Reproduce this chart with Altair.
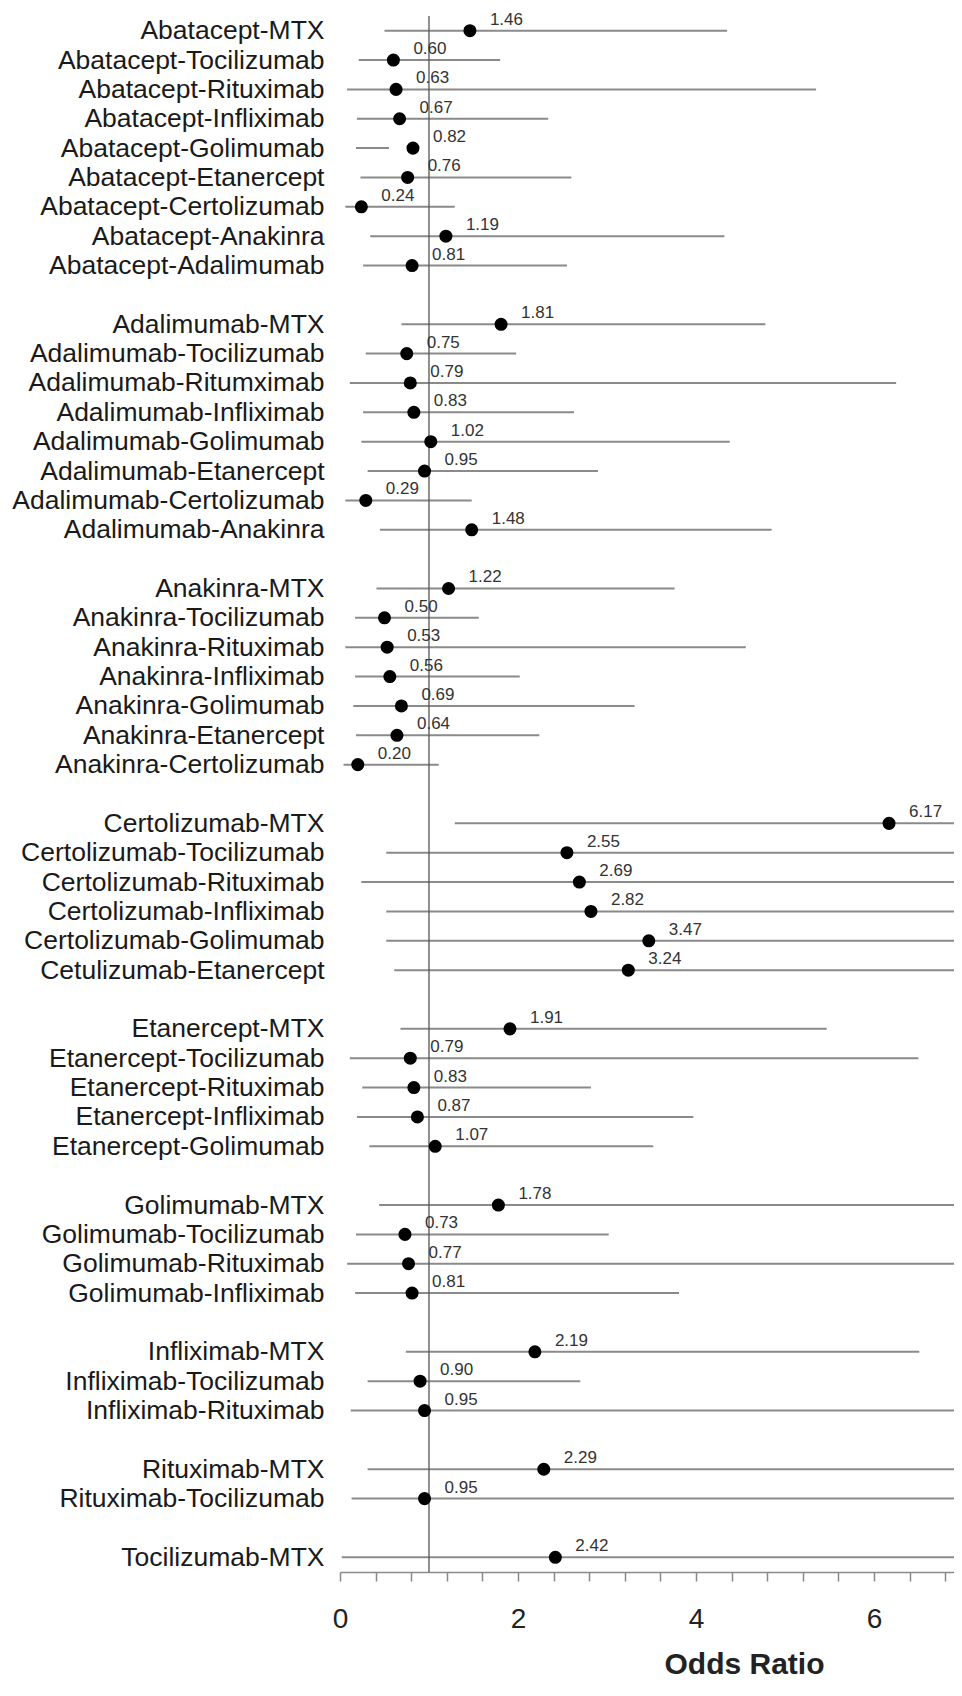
import altair as alt
import pandas as pd

# ---------------- data ----------------
names = [
    "Abatacept-MTX", "Abatacept-Tocilizumab", "Abatacept-Rituximab", "Abatacept-Infliximab",
    "Abatacept-Golimumab", "Abatacept-Etanercept", "Abatacept-Certolizumab", "Abatacept-Anakinra",
    "Abatacept-Adalimumab",
    "Adalimumab-MTX", "Adalimumab-Tocilizumab", "Adalimumab-Ritumximab", "Adalimumab-Infliximab",
    "Adalimumab-Golimumab", "Adalimumab-Etanercept", "Adalimumab-Certolizumab", "Adalimumab-Anakinra",
    "Anakinra-MTX", "Anakinra-Tocilizumab", "Anakinra-Rituximab", "Anakinra-Infliximab",
    "Anakinra-Golimumab", "Anakinra-Etanercept", "Anakinra-Certolizumab",
    "Certolizumab-MTX", "Certolizumab-Tocilizumab", "Certolizumab-Rituximab", "Certolizumab-Infliximab",
    "Certolizumab-Golimumab", "Cetulizumab-Etanercept",
    "Etanercept-MTX", "Etanercept-Tocilizumab", "Etanercept-Rituximab", "Etanercept-Infliximab",
    "Etanercept-Golimumab",
    "Golimumab-MTX", "Golimumab-Tocilizumab", "Golimumab-Rituximab", "Golimumab-Infliximab",
    "Infliximab-MTX", "Infliximab-Tocilizumab", "Infliximab-Rituximab",
    "Rituximab-MTX", "Rituximab-Tocilizumab",
    "Tocilizumab-MTX",
]
group_sizes = [9, 8, 7, 6, 5, 4, 3, 2, 1]

odds = [
    1.46, 0.60, 0.63, 0.67, 0.82, 0.76, 0.24, 1.19, 0.81,
    1.81, 0.75, 0.79, 0.83, 1.02, 0.95, 0.29, 1.48,
    1.22, 0.50, 0.53, 0.56, 0.69, 0.64, 0.20,
    6.17, 2.55, 2.69, 2.82, 3.47, 3.24,
    1.91, 0.79, 0.83, 0.87, 1.07,
    1.78, 0.73, 0.77, 0.81,
    2.19, 0.90, 0.95,
    2.29, 0.95,
    2.42,
]
lower = [
    0.50, 0.21, 0.08, 0.19, 0.18, 0.23, 0.06, 0.34, 0.26,
    0.69, 0.29, 0.11, 0.26, 0.24, 0.31, 0.06, 0.45,
    0.41, 0.17, 0.06, 0.17, 0.15, 0.18, 0.04,
    1.29, 0.52, 0.24, 0.52, 0.52, 0.61,
    0.68, 0.11, 0.25, 0.19, 0.33,
    0.44, 0.18, 0.08, 0.17,
    0.74, 0.31, 0.12,
    0.31, 0.13,
    0.02,
]
# upper limits beyond the visible range (> 7) are estimates; they are clipped
upper = [
    4.35, 1.80, 5.35, 2.34, 0.55, 2.60, 1.29, 4.32, 2.55,
    4.78, 1.98, 6.25, 2.63, 4.38, 2.90, 1.48, 4.85,
    3.76, 1.56, 4.56, 2.02, 3.31, 2.24, 1.11,
    9.0, 9.0, 9.0, 9.0, 9.0, 9.0,
    5.47, 6.50, 2.82, 3.97, 3.52,
    9.0, 3.02, 9.0, 3.81,
    6.51, 2.70, 9.0,
    9.0, 9.0,
    9.0,
]
ref_line = [1]

# ---------------- build row order with blank separator rows ----------------
domain = []
i0 = 0
for g, n in enumerate(group_sizes):
    if g > 0:
        domain.append(" " * g)
    domain.extend(names[i0:i0 + n])
    i0 += n

df = pd.DataFrame({"pair": names, "or": odds, "lo": lower, "hi": upper})
ref_df = pd.DataFrame({"ref": ref_line})

FONT = "Liberation Sans"
X_MAX = 6.9
tick_vals = [round(0.4 * k, 1) for k in range(18)]

xscale = alt.Scale(domain=[0, X_MAX], nice=False, zero=False)
yscale = alt.Scale(type="point", domain=domain, padding=0.5)

x_axis = alt.Axis(
    values=tick_vals,
    tickCount=40,
    labelExpr="abs(datum.value/2 - round(datum.value/2)) < 0.001 ? format(datum.value, 'd') : ''",
    labelOverlap=False,
    grid=False,
    domainColor="#8a8a8a",
    domainWidth=1.5,
    tickColor="#8a8a8a",
    tickWidth=1.5,
    tickSize=9,
    labelFont=FONT,
    labelFontSize=28,
    labelColor="#222222",
    labelPadding=24,
    labelFlush=False,
    title="Odds Ratio",
    titleFont=FONT,
    titleFontSize=30,
    titleFontWeight="bold",
    titleColor="#222222",
    titleX=404,
    titleY=92,
    titleAlign="center",
    titleBaseline="middle",
)

y_enc = alt.Y(
    "pair:N",
    scale=yscale,
    sort=domain,
    axis=alt.Axis(
        title=None,
        domain=False,
        ticks=False,
        tickSize=0,
        grid=False,
        labelPadding=16,
        labelFont=FONT,
        labelFontSize=26.5,
        labelLimit=600,
        labelColor="#1a1a1a",
    ),
)

base = alt.Chart(df).encode(y=y_enc)

ci = base.mark_rule(color="#8a8a8a", strokeWidth=2, clip=True).encode(
    x=alt.X("lo:Q", scale=xscale, axis=x_axis, title="Odds Ratio"),
    x2="hi:Q",
)

vline = alt.Chart(ref_df).mark_rule(color="#555555", strokeWidth=1.3).encode(
    x=alt.X("ref:Q", scale=xscale, title="Odds Ratio"),
)

pts = base.mark_circle(size=170, color="black", opacity=1).encode(
    x=alt.X("or:Q", scale=xscale, title="Odds Ratio"),
)

lbl = base.mark_text(
    align="left", baseline="middle", dx=20, dy=-11,
    font=FONT, fontSize=17, color="#333333",
).encode(
    x=alt.X("or:Q", scale=xscale, title="Odds Ratio"),
    text=alt.Text("or:Q", format=".2f"),
)

chart = (
    alt.layer(ci, vline, pts, lbl)
    .properties(
        width=614,
        height=1556,
        padding={"left": 332, "top": 8, "right": 0, "bottom": 110},
        autosize=alt.AutoSizeParams(type="none"),
        background="white",
    )
    .configure_view(stroke=None)
)

chart.save("out.html", embed_options={"renderer": "svg", "actions": False})
